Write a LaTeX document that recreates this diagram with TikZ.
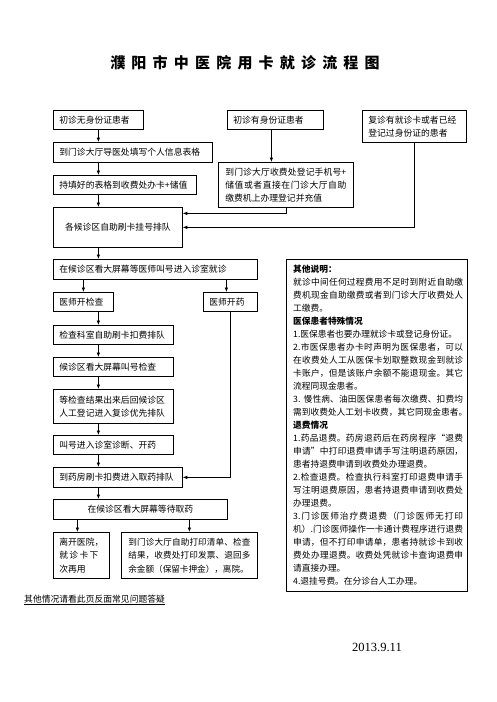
\documentclass[tikz,border=0pt]{standalone}
\usepackage{fontspec}
\setmainfont{Noto Sans CJK SC}
\newfontfamily\datefont{Liberation Serif}
\usetikzlibrary{arrows.meta}
\XeTeXlinebreaklocale "zh"
\XeTeXlinebreakskip=0pt plus 1pt
\XeTeXlinebreakpenalty=10000
\newcommand\bxfont{\fontsize{8.8}{12.8}\selectfont}
\newcommand\ntfont{\fontsize{8.7}{13}\selectfont}
\begin{document}
\begin{tikzpicture}[x=1pt,y=-1pt,
  box/.style={draw, line width=0.75pt, anchor=north west, inner xsep=6pt, inner ysep=0pt, font=\bxfont, align=left},
  arr/.style={-{Latex[length=4.5pt,width=3.6pt]}, line width=0.75pt}]
\useasboundingbox (0,0) rectangle (496,702);
% title
\node (title) at (245,63) {\fontsize{15}{18}\selectfont\bfseries 濮\kern6.2pt阳\kern6.2pt市\kern6.2pt中\kern6.2pt医\kern6.2pt院\kern6.2pt用\kern6.2pt卡\kern6.2pt就\kern6.2pt诊\kern6.2pt流\kern6.2pt程\kern6.2pt图};
% top row
\node[box, text width=78pt, minimum height=19pt, inner xsep=6pt] (n1) at (53,110) {初诊无身份证患者};
\node[box, text width=84pt, minimum height=19pt] (m1) at (227,110) {初诊有身份证患者};
\node[box, text width=92pt, minimum height=32pt] (r1) at (362,110) {复诊有就诊卡或者已经\\登记过身份证的患者};
\node[box, text width=147pt, minimum height=20pt] (n2) at (53,142) {到门诊大厅导医处填写个人信息表格};
\node[box, text width=131pt, minimum height=19pt] (n3) at (53,175) {持填好的表格到收费处办卡+储值};
\node[box, text width=121pt, inner xsep=7pt, minimum height=45pt, align=justify] (m2) at (218,162) {到门诊大厅收费处登记手机号+\linebreak 储值或者直接在门诊大厅自助\linebreak 缴费机上办理登记并充值};
\node[box, text width=117pt, minimum height=40pt, align=flush center] (n4) at (53,207) {各候诊区自助刷卡挂号排队};
\node[box, text width=192pt, minimum height=20pt] (n5) at (53,259) {在候诊区看大屏幕等医师叫号进入诊室就诊};
\node[box, text width=48pt, minimum height=19pt] (d1) at (53,292) {医师开检查};
\node[box, text width=42pt, minimum height=19pt] (d2) at (203,292) {医师开药};
\node[box, text width=108pt, minimum height=19pt] (e1) at (53,325) {检查科室自助刷卡扣费排队};
\node[box, text width=108pt, minimum height=19pt] (e2) at (53,357) {候诊区看大屏幕叫号检查};
\node[box, text width=108pt, minimum height=34pt] (e3) at (53,389) {等检查结果出来后回候诊区\\人工登记进入复诊优先排队};
\node[box, text width=108pt, minimum height=19pt] (e4) at (53,435) {叫号进入诊室诊断、开药};
\node[box, text width=117pt, minimum height=20pt] (e5) at (53,467) {到药房刷卡扣费进入取药排队};
\node[box, text width=162pt, minimum height=20pt, align=flush center] (f1) at (53,499) {在候诊区看大屏幕等待取药};
\node[box, minimum width=54pt, minimum height=46pt, font=\fontsize{8.8}{13.5}\selectfont] (g1) at (53,532) {离开医院，\\\makebox[39pt][s]{就\hfill 诊\hfill 卡\hfill 下}\\次再用};
\node[box, text width=122pt, inner xsep=7pt, minimum height=46pt, align=justify, font=\fontsize{8.6}{13.5}\selectfont] (g2) at (121,532) {到门诊大厅自助打印清单、检查\linebreak 结果，收费处打印发票、退回多\linebreak 余金额（保留卡押金），离院。};
% notes
\draw[line width=0.75pt] (286,259) rectangle (467,591);
\node[anchor=north west, inner sep=0pt, text width=170pt, align=justify, font=\ntfont] (notes) at (293,264.5) {{\bfseries 其他说明：}\\
就诊中间任何过程费用不足时到附近自助缴\linebreak
费机现金自助缴费或者到门诊大厅收费处人\linebreak
工缴费。\\
{\bfseries 医保患者特殊情况}\\
1.医保患者也要办理就诊卡或登记身份证。\\
2.市医保患者办卡时声明为医保患者，可以\linebreak
在收费处人工从医保卡划取整数现金到就诊\linebreak
卡账户，但是该账户余额不能退现金。其它\linebreak
流程同现金患者。\\
3. 慢性病、油田医保患者每次缴费、扣费均\linebreak
需到收费处人工划卡收费，其它同现金患者。\\
{\bfseries 退费情况}\\
1.药品退费。药房退药后在药房程序“退费\linebreak
申请”中打印退费申请手写注明退药原因，\linebreak
患者持退费申请到收费处办理退费。\\
2.检查退费。检查执行科室打印退费申请手\linebreak
写注明退费原因，患者持退费申请到收费处\linebreak
办理退费。\\
3.门诊医师治疗费退费（门诊医师无打印\linebreak
机）.门诊医师操作一卡通计费程序进行退费\linebreak
申请，但不打印申请单，患者持就诊卡到收\linebreak
费处办理退费。收费处凭就诊卡查询退费申\linebreak
请直接办理。\\
4.退挂号费。在分诊台人工办理。};
% footer
\node[anchor=west, inner sep=0pt, font=\bxfont] (foot) at (24,600) {\underline{其他情况请看此页反面常见问题答疑}};
\node[font=\datefont\fontsize{12.5}{14}\selectfont, inner sep=0pt] (date) at (377,647) {2013.9.11};
% connectors
\draw[arr] (n1.south) -- (n2.north -| n1.south);
\draw[arr] (n2.south -| n1) -- (n3.north -| n1);
\draw[arr] (n3.south -| n1) -- (n4.north -| n1);
\draw[arr] ([xshift=-4pt]m1.south) -- ([xshift=-4pt]m2.north -| m1.south);
\draw[arr] (m2.south) |- ([yshift=14pt]n4.east);
\draw[arr] (r1.south) |- (n4.east);
\draw[arr] (n4.south -| n1) -- (n5.north -| n1);
\draw[arr] (n5.south -| d1) -- (d1.north);
\draw[arr] ([xshift=-4pt]n5.south -| d2) -- ([xshift=-4pt]d2.north);
\draw[arr] (d1.south -| n1) -- (e1.north -| n1);
\draw[arr] (e1.south -| n1) -- (e2.north -| n1);
\draw[arr] (e2.south -| n1) -- (e3.north -| n1);
\draw[arr] (e3.south -| n1) -- (e4.north -| n1);
\draw[arr] (e4.south -| n1) -- (e5.north -| n1);
\draw[arr] (d2.south) |- (e5.east);
\draw[arr] (e5.south -| n1) -- (f1.north -| n1);
\draw[arr] ([xshift=-4pt]f1.south -| g1) -- ([xshift=-4pt]g1.north);
\draw[arr] (f1.south -| g2) -- (g2.north);
\end{tikzpicture}
\end{document}
